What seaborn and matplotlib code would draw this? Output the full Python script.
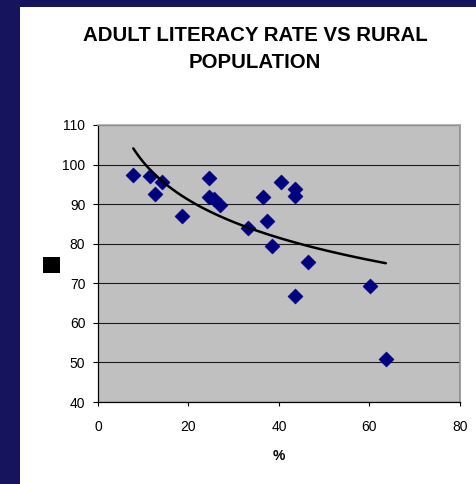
import matplotlib
matplotlib.use("Agg")
import matplotlib.pyplot as plt
from matplotlib.patches import Rectangle
import numpy as np
import pandas as pd
import seaborn as sns

# Rural population share (%) and adult literacy rate (%) per country
rural_pct = [7.8, 11.5, 12.7, 14.1, 18.5, 24.5, 24.5, 25.6, 27.0, 33.2,
             36.4, 37.3, 38.5, 40.4, 43.5, 43.5, 46.3, 43.5, 60.1, 63.6]
literacy = [97.4, 97.0, 92.5, 95.7, 87.0, 96.5, 91.7, 91.2, 89.8, 83.9,
            91.7, 85.8, 79.3, 95.7, 93.8, 92.1, 75.3, 66.8, 69.3, 50.8]

x_ticks = [0, 20, 40, 60, 80]
y_ticks = [40, 50, 60, 70, 80, 90, 100, 110]

df = pd.DataFrame({"rural": rural_pct, "literacy": literacy})

sns.set_theme(style="white")
plt.rcParams["font.family"] = ["Liberation Sans", "DejaVu Sans"]

W, H = 477, 484
fig = plt.figure(figsize=(W / 100, H / 100), dpi=100)
fig.patch.set_facecolor("#16145c")

# white slide panel behind everything
fig.patches.append(Rectangle((20 / W, 0), 1 - 20 / W, 1 - 7 / H,
                             transform=fig.transFigure, facecolor="white",
                             edgecolor="none", zorder=-5))

ax = fig.add_axes([98 / W, 1 - 402 / H, (460 - 98) / W, (402 - 125) / H])
ax.set_zorder(1)
ax.set_facecolor("#c0c0c0")

sns.scatterplot(data=df, x="rural", y="literacy", marker="D", s=60,
                color="#000080", edgecolor="#000080", linewidth=0.3,
                ax=ax, zorder=3, legend=False)
sns.regplot(data=df, x="rural", y="literacy", logx=True, scatter=False,
            ci=None, color="black", line_kws={"linewidth": 1.8, "zorder": 4},
            ax=ax)

ax.set_xlim(0, 80)
ax.set_ylim(40, 110)
ax.set_xticks(x_ticks)
ax.set_yticks(y_ticks)
ax.yaxis.grid(True, color="#1a1a1a", linewidth=0.8)
ax.set_axisbelow(True)

for side in ["left", "bottom"]:
    ax.spines[side].set_color("black")
    ax.spines[side].set_linewidth(0.9)
ax.spines["top"].set_color("#a8a8a8")
ax.spines["right"].set_color("#8c8c8c")
ax.spines["top"].set_linewidth(1.2)
ax.spines["right"].set_linewidth(1.2)

ax.tick_params(axis="y", direction="out", length=3.6, width=0.8, pad=5.5,
               labelsize=10, colors="black", left=True)
ax.tick_params(axis="x", direction="out", length=2.9, width=0.8, pad=10,
               labelsize=10, colors="black", bottom=True)

ax.set_xlabel("%", fontsize=10, fontweight="bold", labelpad=11, color="black")
ax.set_ylabel("")

fig.text(255 / W, 1 - 49 / H, "ADULT LITERACY RATE VS RURAL\nPOPULATION",
         ha="center", va="center", fontsize=14.7, fontweight="bold",
         color="black", linespacing=1.5)

# legend key block
fig.patches.append(Rectangle((43 / W, 1 - 273 / H), 17 / W, 16 / H,
                             transform=fig.transFigure, facecolor="black",
                             edgecolor="none", zorder=2))

fig.savefig("out.png", dpi=100, facecolor=fig.get_facecolor())
